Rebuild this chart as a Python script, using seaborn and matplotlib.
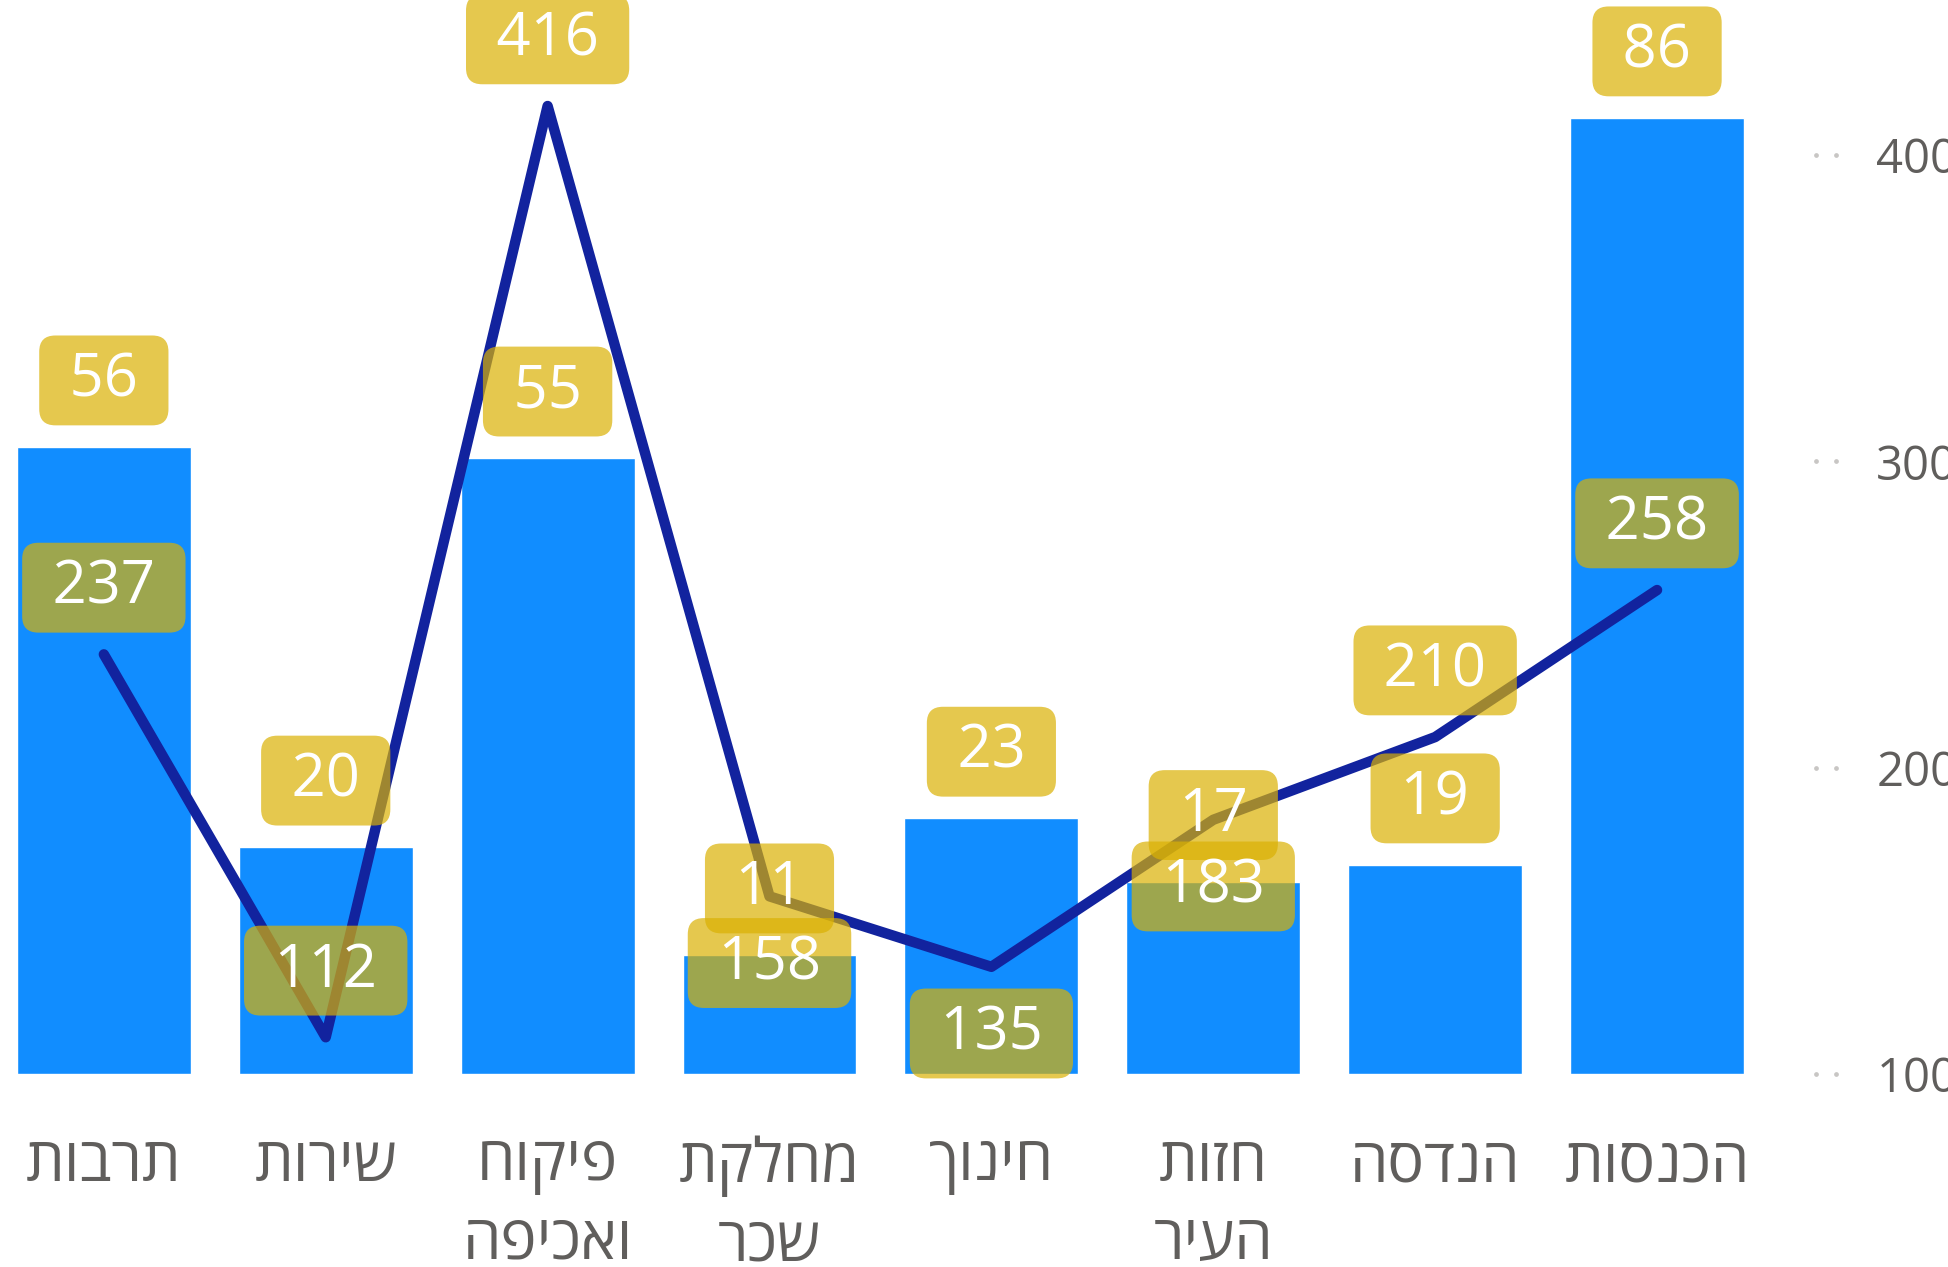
import numpy as np
import pandas as pd
import matplotlib
matplotlib.use("Agg")
import matplotlib.pyplot as plt
import seaborn as sns

# === DATA ===
categories = ["תרבות", "שירות", "פיקוח\nואכיפה", "מחלקת\nשכר",
              "חינוך", "חזות\nהעיר", "הנדסה", "הכנסות"]
# bar heights (labels show them rounded)
bar_values = [56.4, 20.4, 55.4, 10.7, 23.0, 17.3, 18.8, 86.0]
line_values = [237, 112, 416, 158, 135, 183, 210, 258]
line_label_side = ["above", "above", "above", "below", "below", "below", "above", "above"]
right_ticks = [100, 200, 300, 400]

# === STYLE ===
BAR_COLOR = "#118DFF"
LINE_COLOR = "#12239E"
LABEL_BG = "#DAB103"
TEXT_GRAY = "#605E5C"

sns.set_style("white")
plt.rcParams["font.family"] = ["Open Sans", "DejaVu Sans"]


def rtl(s):
    # matplotlib draws left to right, so flip each Hebrew line
    return "\n".join(line[::-1] for line in s.split("\n"))


df = pd.DataFrame({"category": categories, "bars": bar_values, "line": line_values})

fig = plt.figure(figsize=(19.48, 12.67), dpi=100)
ax = fig.add_axes([0.0, 0.1523, 1768 / 1948, 0.8477])

sns.barplot(data=df, x="category", y="bars", color=BAR_COLOR, saturation=1,
            width=0.784, ax=ax)
ax.set_xlim(-0.468, 7.5)
ax.set_ylim(0, 96.62)

ax2 = ax.twinx()
sns.lineplot(data=df, x="category", y="line", sort=False, color=LINE_COLOR,
             ax=ax2, solid_capstyle="round", solid_joinstyle="round")
for ln in ax2.lines:
    ln.set_linewidth(7.5)
ax2.set_ylim(100, 450.6)
ax.set_xlim(-0.468, 7.5)

# axes cosmetics
for a in (ax, ax2):
    for sp in a.spines.values():
        sp.set_visible(False)
    a.set_xlabel("")
    a.set_ylabel("")
ax.set_yticks([])
ax.set_xticks(range(len(categories)))
ax.set_xticklabels([rtl(c) for c in categories], fontsize=44, color=TEXT_GRAY,
                   linespacing=1.38)
ax.tick_params(axis="x", length=0, pad=44)

ax2.set_yticks(right_ticks)
ax2.set_yticklabels([str(t) for t in right_ticks])
ax2.tick_params(axis="y", length=0, pad=78, labelsize=34, labelcolor=TEXT_GRAY)
for t in right_ticks:
    ax2.plot([1.027, 1.0385], [t, t], ls="none", marker="o", ms=2.4,
             color="#C8C6C4", transform=ax2.get_yaxis_transform(), clip_on=False)

# data labels
box = dict(boxstyle="round,pad=0.25,rounding_size=0.27", fc=LABEL_BG, ec="none", alpha=0.7)
for i, v in enumerate(bar_values):
    ax2.annotate(f" {round(v)} ", xy=(i, v), xycoords=ax.transData, xytext=(0, 48),
                 textcoords="offset points", ha="center", va="center",
                 fontsize=43, color="white", bbox=box, zorder=5)
for i, v in enumerate(line_values):
    dy = 48 if line_label_side[i] == "above" else -48
    ax2.annotate(f" {v} ", xy=(i, v), xycoords=ax2.transData, xytext=(0, dy),
                 textcoords="offset points", ha="center", va="center",
                 fontsize=43, color="white", bbox=box, zorder=5)

fig.savefig("out.png", dpi=100)
plt.close(fig)
